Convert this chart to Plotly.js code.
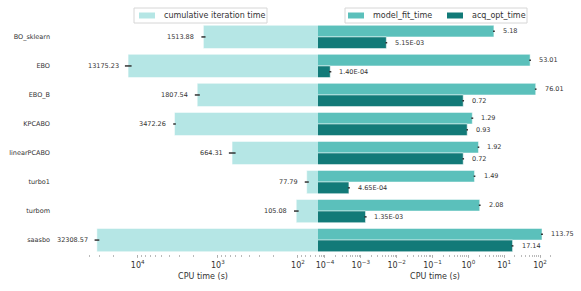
<!DOCTYPE html>
<html>
<head>
<meta charset="utf-8">
<script src="https://cdn.plot.ly/plotly-3.0.1.min.js"></script>
<style>html,body{margin:0;padding:0;background:#fff;}#chart{width:581px;height:291px;}</style>
</head>
<body>
<div id="chart"></div>
<script>
const methods = ["BO_sklearn", "EBO", "EBO_B", "KPCABO", "linearPCABO", "turbo1", "turbom", "saasbo"];
const cumulativeTime = [1513.88, 13175.23, 1807.54, 3472.26, 664.31, 77.79, 105.08, 32308.57];
const cumulativeErr = [90, 1260, 130, 130, 64, 4.5, 7, 2200];
const modelFitTime = [5.18, 53.01, 76.01, 1.29, 1.92, 1.49, 2.08, 113.75];
const modelFitErr = [0.3, 3, 4, 0.08, 0.1, 0.08, 0.12, 7];
const acqOptTime = [5.15e-3, 1.40e-4, 0.72, 0.93, 0.72, 4.65e-4, 1.35e-3, 17.14];
const acqOptErr = [0.0003, 0.00001, 0.04, 0.05, 0.04, 0.00003, 0.0001, 1];
const leftTickVals = [10000, 1000, 100];
const leftTickText = ["10<sup>4</sup>", "10<sup>3</sup>", "10<sup>2</sup>"];
const rightTickVals = [1e-4, 1e-3, 1e-2, 1e-1, 1, 10, 100];
const rightTickText = ["10<sup>−4</sup>", "10<sup>−3</sup>", "10<sup>−2</sup>", "10<sup>−1</sup>", "10<sup>0</sup>", "10<sup>1</sup>", "10<sup>2</sup>"];

const cLight = "#b5e6e5", cMid = "#5bc0bb", cDark = "#127a78";
const FONT = "DejaVu Sans, sans-serif";

// plot-area geometry (px)
const W = 581, H = 291, ML = 88, MR = 29, MT = 23, MB = 37;
const PW = W - ML - MR, PH = H - MT - MB;
const px = v => (v - ML) / PW;
const py = v => (H - MB - v) / PH;

function fmt(v) {
  if (v >= 0.01) return v.toFixed(2);
  let s = v.toExponential(2).toUpperCase();
  return s.replace(/E([+-])(\d)$/, "E$10$2");
}

const errStyle = {type: "data", color: "#333", thickness: 1.5, width: 0};

const traces = [
  {type: "bar", orientation: "h", name: "cumulative iteration time", y: methods, x: cumulativeTime,
   error_x: Object.assign({array: cumulativeErr}, errStyle),
   marker: {color: cLight, line: {color: "white", width: 0.5}}, xaxis: "x", yaxis: "y"},
  {type: "bar", orientation: "h", name: "model_fit_time", y: methods, x: modelFitTime,
   error_x: Object.assign({array: modelFitErr}, errStyle),
   marker: {color: cMid, line: {color: "white", width: 0.5}}, xaxis: "x2", yaxis: "y2"},
  {type: "bar", orientation: "h", name: "acq_opt_time", y: methods, x: acqOptTime,
   error_x: Object.assign({array: acqOptErr}, errStyle),
   marker: {color: cDark, line: {color: "white", width: 0.5}}, xaxis: "x2", yaxis: "y2"}
];

const annotations = [];
const lblFont = {family: FONT, size: 6.5, color: "#333"};
methods.forEach((m, i) => {
  annotations.push({xref: "x", yref: "y", x: Math.log10(cumulativeTime[i]), y: i, text: fmt(cumulativeTime[i]),
    showarrow: false, xanchor: "right", xshift: -7, font: lblFont});
  annotations.push({xref: "x2", yref: "y2", x: Math.log10(modelFitTime[i]), y: i - 0.2, text: fmt(modelFitTime[i]),
    showarrow: false, xanchor: "left", xshift: 7, font: lblFont});
  annotations.push({xref: "x2", yref: "y2", x: Math.log10(acqOptTime[i]), y: i + 0.2, text: fmt(acqOptTime[i]),
    showarrow: false, xanchor: "left", xshift: 7, font: lblFont});
});

// manual legends (matplotlib-like compact boxes)
const shapes = [];
const legFont = {family: FONT, size: 8, color: "#333"};
function legendBox(x0, x1) {
  shapes.push({type: "rect", xref: "paper", yref: "paper", x0: px(x0), x1: px(x1), y0: py(23), y1: py(8),
    line: {color: "#d6d6d6", width: 1}, fillcolor: "rgba(255,255,255,0.85)", layer: "above"});
}
function legendItem(sx, color, label) {
  shapes.push({type: "rect", xref: "paper", yref: "paper", x0: px(sx), x1: px(sx + 16), y0: py(18.5), y1: py(12.5),
    line: {width: 0}, fillcolor: color, layer: "above"});
  annotations.push({xref: "paper", yref: "paper", x: px(sx + 23), y: py(15.5), xanchor: "left", yanchor: "middle",
    text: label, showarrow: false, font: legFont});
}
legendBox(134, 267);
legendItem(139, cLight, traces[0].name);
legendBox(345, 527);
legendItem(348, cMid, traces[1].name);
legendItem(447, cDark, traces[2].name);

const axisCommon = {
  type: "log", showgrid: false, zeroline: false, showline: false,
  ticks: "outside", ticklen: 3, tickwidth: 0.8, tickcolor: "#aaa",
  tickfont: {family: FONT, size: 8, color: "#333"},
  minor: {ticks: "outside", ticklen: 1.5, tickwidth: 0.8, tickcolor: "#aaa", dtick: "D1", showgrid: false},
  title: {text: "CPU time (s)", font: {family: FONT, size: 8, color: "#333"}, standoff: 4},
  tickmode: "array"
};

const layout = {
  width: W, height: H,
  margin: {l: ML, r: MR, t: MT, b: MB},
  paper_bgcolor: "white", plot_bgcolor: "white",
  barmode: "group", bargap: 0.2, bargroupgap: 0,
  showlegend: false,
  font: {family: FONT, color: "#333"},
  xaxis: Object.assign({}, axisCommon, {domain: [0, px(318)], range: [4.62, 1.75], anchor: "y",
    tickvals: leftTickVals, ticktext: leftTickText}),
  xaxis2: Object.assign({}, axisCommon, {domain: [px(318), 1], range: [-4.195, 2.335], anchor: "y2",
    tickvals: rightTickVals, ticktext: rightTickText}),
  yaxis: {type: "category", categoryorder: "array", categoryarray: methods, range: [7.48, -0.48],
    showgrid: false, zeroline: false, showline: false, ticks: "", ticklabelstandoff: 37,
    tickfont: {family: FONT, size: 6.5, color: "#333"}, anchor: "x"},
  yaxis2: {type: "category", categoryorder: "array", categoryarray: methods, range: [7.48, -0.48],
    matches: "y", showgrid: false, zeroline: false, showline: false, showticklabels: false, ticks: "", anchor: "x2"},
  shapes: shapes,
  annotations: annotations
};

Plotly.newPlot("chart", traces, layout, {displayModeBar: false, staticPlot: true});
</script>
</body>
</html>
